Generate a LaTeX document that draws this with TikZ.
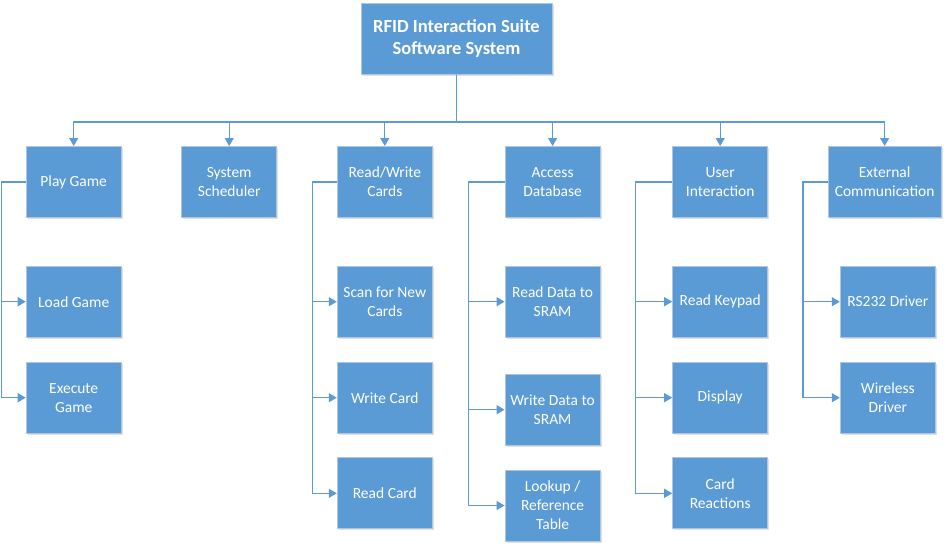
\documentclass[tikz,border=0pt]{standalone}
\usepackage{fontspec}
\setmainfont{Carlito}
\usepackage{tikz}
\usetikzlibrary{arrows.meta,positioning,shadows}
\definecolor{boxblue}{HTML}{5B9BD5}
\definecolor{boxedge}{HTML}{B0C6E0}
\definecolor{linkblue}{HTML}{5B9BD5}

\begin{document}
\begin{tikzpicture}[
  x=1pt,y=-1pt,
  block/.style={draw=boxedge,line width=1pt,fill=boxblue,rectangle,
                minimum width=95pt,minimum height=71pt,inner sep=2pt,
                align=center,text=white,font=\fontsize{15.5}{19}\selectfont,
                drop shadow={shadow xshift=1.5pt,shadow yshift=-1.5pt,
                             fill=black,opacity=0.12}},
  arr/.style={-{Triangle[length=8pt,width=9pt]},draw=linkblue,
              line width=1.3pt}
]
\useasboundingbox (0,0) rectangle (947,549);
% Root
\node[block,minimum width=191pt,
      font=\fontsize{18.5}{22}\selectfont\bfseries]
  (root) at (456.5,38.5) {RFID Interaction Suite\\Software System};
\coordinate (bus) at (0,122);
% Top level
\node[block] (play)  at (73.7,182)  {Play Game};
\node[block] (sched) at (229.2,182) {System\\Scheduler};
\node[block] (rw)    at (384.8,182) {Read/Write\\Cards};
\node[block] (db)    at (552.6,182) {Access\\Database};
\node[block] (ui)    at (720.2,182) {User\\Interaction};
\node[block,minimum width=113pt] (ext) at (884.6,182)
  {External\\Communication};
% Play Game
\node[block] (load) at (73.7,301.7) {Load Game};
\node[block] (exec) at (73.7,397.7) {Execute\\Game};
% Read/Write Cards
\node[block] (scan)  at (384.8,301.7) {Scan for New\\Cards};
\node[block] (wcard) at (384.8,397.7) {Write Card};
\node[block] (rcard) at (384.8,493.3) {Read Card};
% Access Database
\node[block] (rdata)  at (552.6,301.7) {Read Data to\\SRAM};
\node[block] (wdata)  at (552.6,409.7) {Write Data to\\SRAM};
\node[block] (lookup) at (552.6,505.5) {Lookup /\\Reference\\Table};
% User Interaction
\node[block] (keypad) at (720.2,301.7) {Read Keypad};
\node[block] (disp)   at (720.2,397.7) {Display};
\node[block] (react)  at (720.2,493.3) {Card\\Reactions};
% External Communication
\node[block] (rs232) at (887.8,301.7) {RS232 Driver};
\node[block] (wless) at (887.8,397.7) {Wireless\\Driver};
% Arrows from root
\draw[arr] (root.south) -- (root.south |- bus) -| (play.north);
\draw[arr] (root.south) -- (root.south |- bus) -| (sched.north);
\draw[arr] (root.south) -- (root.south |- bus) -| (rw.north);
\draw[arr] (root.south) -- (root.south |- bus) -| (db.north);
\draw[arr] (root.south) -- (root.south |- bus) -| (ui.north);
\draw[arr] (root.south) -- (root.south |- bus) -| (ext.north);
% Branches
\draw[arr] (play.west) -- ++(-24.5,0) |- (load);
\draw[arr] (play.west) -- ++(-24.5,0) |- (exec);
\draw[arr] (rw.west) -- ++(-24.5,0) |- (scan);
\draw[arr] (rw.west) -- ++(-24.5,0) |- (wcard);
\draw[arr] (rw.west) -- ++(-24.5,0) |- (rcard);
\draw[arr] (db.west) -- ++(-36,0) |- (rdata);
\draw[arr] (db.west) -- ++(-36,0) |- (wdata);
\draw[arr] (db.west) -- ++(-36,0) |- (lookup);
\draw[arr] (ui.west) -- ++(-36.5,0) |- (keypad);
\draw[arr] (ui.west) -- ++(-36.5,0) |- (disp);
\draw[arr] (ui.west) -- ++(-36.5,0) |- (react);
\draw[arr] (ext.west) -- ++(-24.5,0) |- (rs232);
\draw[arr] (ext.west) -- ++(-24.5,0) |- (wless);
\end{tikzpicture}
\end{document}
